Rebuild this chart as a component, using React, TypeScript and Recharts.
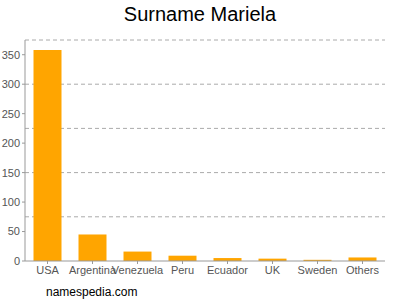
import { BarChart, Bar, XAxis, YAxis, CartesianGrid } from "recharts"

const countries = ["USA", "Argentina", "Venezuela", "Peru", "Ecuador", "UK", "Sweden", "Others"]
const counts = [358, 45, 16, 9, 5, 4, 2, 6]
const yTicks = [0, 50, 100, 150, 200, 250, 300, 350]
const gridTicks = [75, 150, 225, 300, 375]
const yMax = 375

const data = countries.map((name, i) => ({ name, value: counts[i] }))

// grid lines sit every 75 while labels go every 50
const gridRows = ({ offset }: any) =>
  gridTicks.map((t) => offset.top + offset.height * (1 - t / yMax))

export default function App() {
  return (
    <div style={{ position: "absolute", left: 0, top: 0, width: 400, height: 300, fontFamily: "'Liberation Sans', Arial, sans-serif", background: "#fff" }}>
      <div style={{ position: "absolute", top: 3, width: 400, textAlign: "center", fontSize: 20, color: "#000" }}>
        Surname Mariela
      </div>
      <BarChart width={400} height={300} data={data} margin={{ top: 40, right: 15, bottom: 9, left: 0 }} barCategoryGap={8.5}>
        <CartesianGrid
          vertical={false}
          stroke="#aaa"
          strokeDasharray="4 3"
          horizontalCoordinatesGenerator={gridRows}
        />
        <XAxis
          dataKey="name"
          interval={0}
          tick={{ fontSize: 11, fill: "#555" }}
          tickSize={3}
          stroke="#999"
          tickLine={{ stroke: "#999" }}
        />
        <YAxis
          domain={[0, yMax]}
          ticks={yTicks}
          width={25}
          tick={{ fontSize: 11, fill: "#555" }}
          tickSize={3}
          stroke="#999"
          interval={0}
        />
        <Bar dataKey="value" fill="#ffa500" isAnimationActive={false} />
      </BarChart>
      <div style={{ position: "absolute", left: 46, top: 285, fontSize: 12, color: "#000" }}>namespedia.com</div>
    </div>
  )
}
